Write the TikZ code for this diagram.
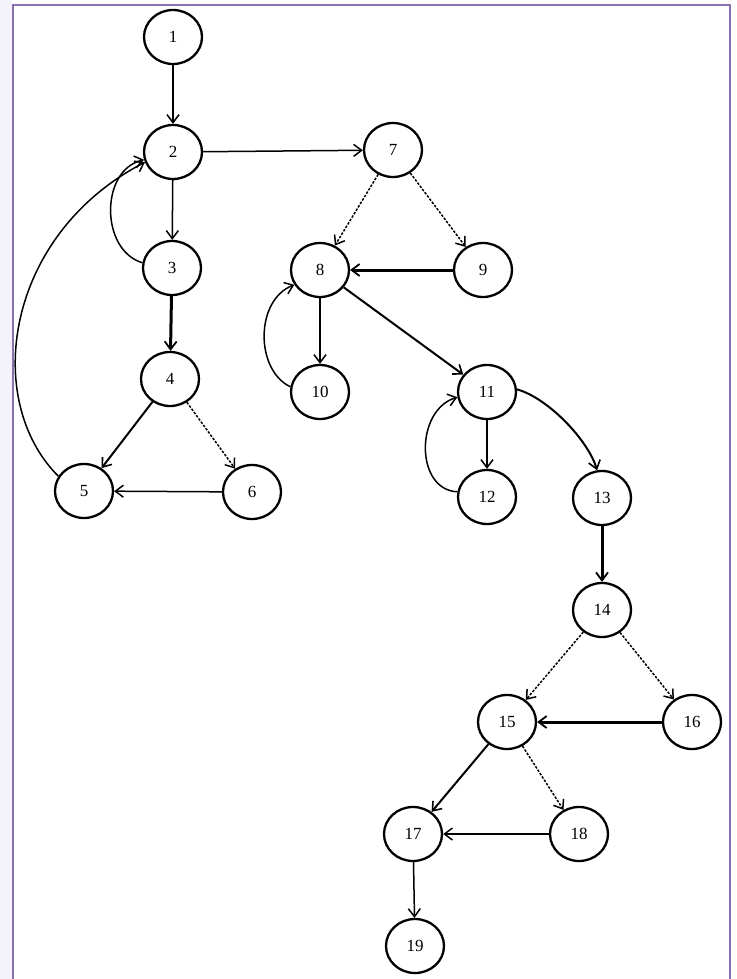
\documentclass[tikz,border=0pt]{standalone}
\usepackage{fontspec}
\setmainfont{Liberation Serif}
\usetikzlibrary{arrows.meta,shapes.geometric}
\definecolor{frame}{RGB}{137,112,178}
\definecolor{outside}{RGB}{244,242,250}
\tikzset{
  vtx/.style={ellipse,draw,line width=2.3pt,minimum width=58pt,minimum height=54pt,inner sep=0pt,font=\fontsize{17}{17}\selectfont},
  edge/.style={line width=1.5pt,-{Straight Barb[length=8pt,width=12pt,line width=1.5pt]}},
  thickedge/.style={line width=3pt,-{Straight Barb[length=8pt,width=12pt,line width=1.8pt]}},
  midedge/.style={line width=2pt,-{Straight Barb[length=8pt,width=12pt,line width=1.6pt]}},
  dotedge/.style={line width=1.5pt,dash pattern=on 2.5pt off 1.5pt,-{Straight Barb[length=8pt,width=12pt,line width=1.5pt]}}
}
\begin{document}
\begin{tikzpicture}[x=1pt,y=-1pt]
\useasboundingbox (0,0) rectangle (736,979);
\fill[outside] (0,0) rectangle (12,979);
\draw[frame,line width=2.5pt] (13,995) -- (13,5) -- (730,5) -- (730,995);

\node[vtx] (n1) at (173,37) {1};
\node[vtx] (n2) at (173,152) {2};
\node[vtx] (n3) at (172,268) {3};
\node[vtx] (n4) at (170,379) {4};
\node[vtx] (n5) at (84,491) {5};
\node[vtx] (n6) at (252,492) {6};
\node[vtx] (n7) at (393,150) {7};
\node[vtx] (n8) at (320,270) {8};
\node[vtx] (n9) at (483,270) {9};
\node[vtx] (n10) at (320,392) {10};
\node[vtx] (n11) at (487,392) {11};
\node[vtx] (n12) at (487,497) {12};
\node[vtx] (n13) at (602,498) {13};
\node[vtx] (n14) at (602,610) {14};
\node[vtx] (n15) at (507,722) {15};
\node[vtx] (n16) at (692,722) {16};
\node[vtx] (n17) at (413,834) {17};
\node[vtx] (n18) at (579,834) {18};
\node[vtx] (n19) at (415,946) {19};

\draw[edge] (n1) -- (n2);
\draw[edge] (n2) -- (n7);
\draw[edge] (n2) -- (n3);
\draw[edge] (n3.170) .. controls (100,250) and (100,170) .. (n2.195);
\draw[thickedge] (n3) -- (n4);
\draw[midedge] (n4) -- (n5);
\draw[dotedge] (n4) -- (n6);
\draw[edge] (n6) -- (n5);
\draw[edge] (n5.150) .. controls (-18,400) and (5,235) .. (n2.200);
\draw[dotedge] (n7) -- (n8);
\draw[dotedge] (n7) -- (n9);
\draw[thickedge] (n9) -- (n8);
\draw[edge] (n8) -- (n10);
\draw[edge] (n10.170) .. controls (255,370) and (255,300) .. (n8.210);
\draw[midedge] (n8) -- (n11);
\draw[edge] (n11) -- (n12);
\draw[edge] (n12.170) .. controls (415,490) and (415,410) .. (n11.190);
\draw[midedge] (n11.5) .. controls (548,398) and (588,440) .. (n13.100);
\draw[thickedge] (n13) -- (n14);
\draw[dotedge] (n14) -- (n15);
\draw[dotedge] (n14) -- (n16);
\draw[thickedge] (n16) -- (n15);
\draw[midedge] (n15) -- (n17);
\draw[dotedge] (n15) -- (n18);
\draw[edge] (n18) -- (n17);
\draw[edge] (n17) -- (n19);
\end{tikzpicture}
\end{document}
